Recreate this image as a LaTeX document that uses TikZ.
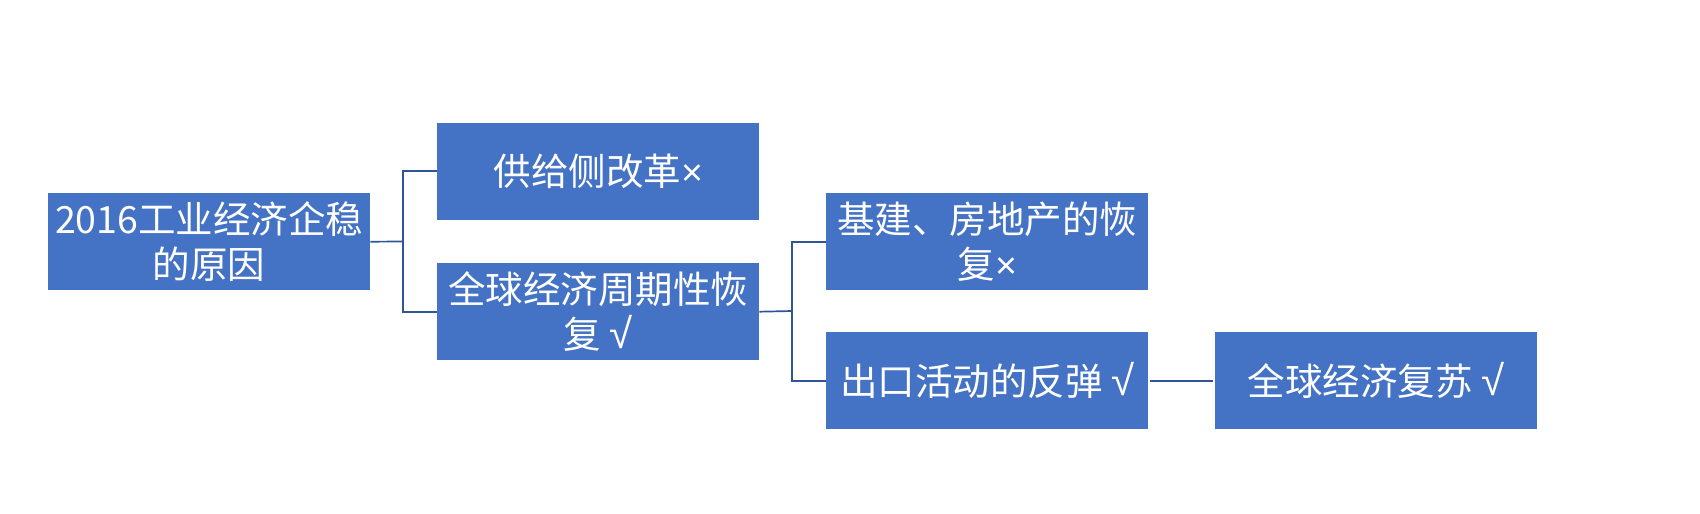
\documentclass[tikz,border=0pt]{standalone}
\usepackage{fontspec}
\newfontfamily\cjk{Noto Sans CJK SC}
\newfontfamily\symf{Liberation Sans}
\newcommand{\ok}{{\symf\fontsize{42}{45}\selectfont √}}
\newcommand{\no}{{\symf ×}}
\definecolor{boxblue}{RGB}{68,114,196}
\definecolor{lineblue}{RGB}{47,85,151}
\tikzset{
  box/.style={fill=boxblue, draw=none, minimum width=322pt, minimum height=97pt, inner sep=0pt,
    align=center, text=white, font=\cjk\fontsize{37.5}{45}\selectfont, anchor=north west},
  link/.style={draw=lineblue, line width=1.7pt}
}
\begin{document}
\begin{tikzpicture}[x=1pt,y=-1pt]
\useasboundingbox (0,0) rectangle (1700,514);
\node[box] (A) at (48,193) {2016工业经济企稳\\的原因};
\node[box] (B) at (437,122.5) {供给侧改革\no};
\node[box] (C) at (437,263) {全球经济周期性恢\\复 \ok};
\node[box] (D) at (826,193) {基建、房地产的恢\\复\no};
\node[box] (E) at (826,332) {出口活动的反弹 \ok};
\node[box] (F) at (1215,332) {全球经济复苏 \ok};
\coordinate (j1) at (403,241.5);
\coordinate (j2) at (792,311);
\draw[link] (A.east) -- (j1);
\draw[link] (B.west) -| (j1);
\draw[link] (C.west) -| (j1);
\draw[link] (C.east) -- (j2);
\draw[link] (D.west) -| (j2);
\draw[link] (E.west) -| (j2);
\draw[link] ([xshift=2pt]E.east) -- ([xshift=-2pt]F.west);
\end{tikzpicture}
\end{document}
